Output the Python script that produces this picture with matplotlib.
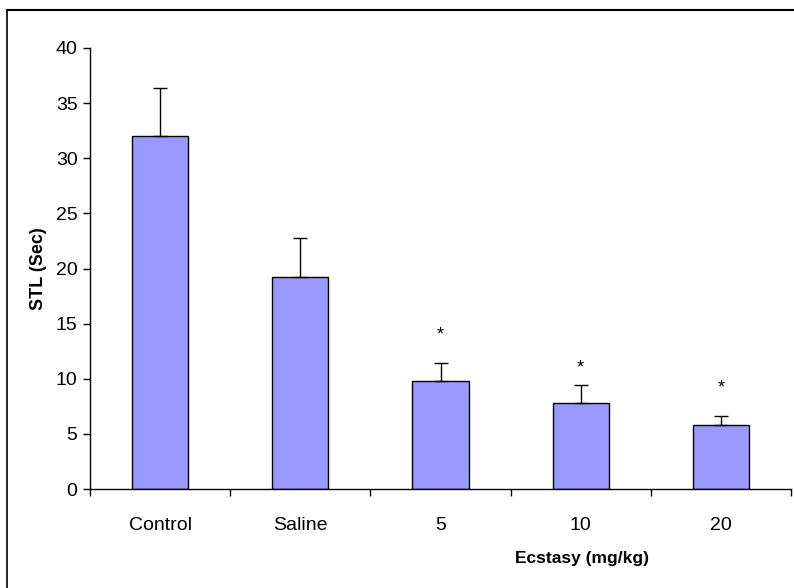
import matplotlib.pyplot as plt
from matplotlib.lines import Line2D
import numpy as np

plt.rcParams['font.family'] = ['Liberation Sans', 'DejaVu Sans']

groups = ['Control', 'Saline', '5', '10', '20']
means = [32.0, 19.25, 9.8, 7.8, 5.8]
errs = [4.4, 3.55, 1.65, 1.6, 0.85]
star_y = [None, None, 14.0, 11.0, 9.2]

fig = plt.figure(figsize=(7.94, 5.88), dpi=100)
ax = fig.add_axes([90 / 794, 1 - 489 / 588, 701 / 794, 441 / 588])

x = np.arange(len(groups))
ax.bar(x, means, width=0.4, color='#9999FF', edgecolor='black', linewidth=1.0,
       yerr=[np.zeros(len(errs)), errs], error_kw=dict(ecolor='black', elinewidth=1.0, capsize=5, capthick=1.0))

# significance marks
for xi, sy in zip(x, star_y):
    if sy is not None:
        ax.text(xi, sy, '*', ha='center', va='center', fontsize=13)

ax.set_xlim(-0.5, len(groups) - 0.5)
ax.set_ylim(0, 40)
ax.set_yticks(range(0, 41, 5))
ax.set_xticks(x)
ax.set_xticklabels(groups)
ax.set_xticks(np.arange(-0.5, len(groups), 1), minor=True)
ax.tick_params(axis='x', which='major', length=0, pad=20, labelsize=14)
ax.tick_params(axis='x', which='minor', length=5, direction='out', width=1)
ax.tick_params(axis='y', length=5, direction='out', width=1, labelsize=14, pad=4)

for s in ['top', 'right']:
    ax.spines[s].set_visible(False)
ax.spines['left'].set_linewidth(1)
ax.spines['bottom'].set_linewidth(1)

ax.set_ylabel('STL (Sec)', fontsize=13, fontweight='bold', labelpad=6)
fig.text(582 / 794, 1 - 558 / 588, 'Ecstasy (mg/kg)', ha='center', va='center',
         fontsize=12.5, fontweight='bold')

# outer frame
fig.add_artist(Line2D([7 / 794, 7 / 794], [0, 1 - 10 / 588], transform=fig.transFigure, color='black', lw=1.2))
fig.add_artist(Line2D([7 / 794, 1], [1 - 10 / 588, 1 - 10 / 588], transform=fig.transFigure, color='black', lw=1.5))

fig.savefig('out.png', dpi=100)
